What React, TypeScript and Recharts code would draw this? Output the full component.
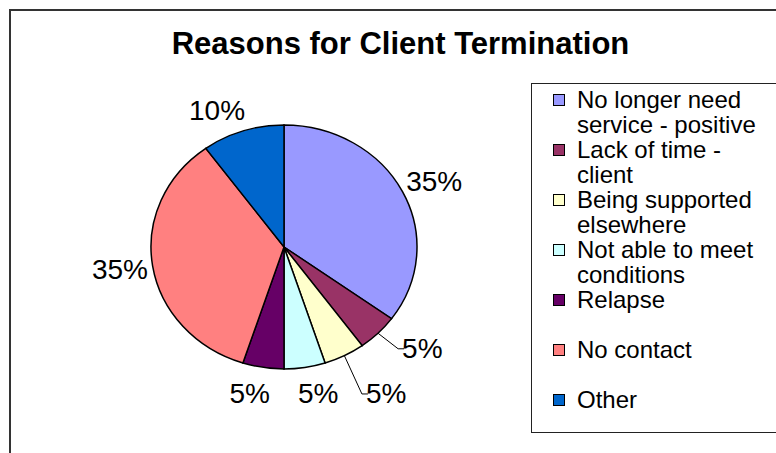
import React from 'react';
import { PieChart, Pie, Cell, Legend } from 'recharts';

const categories = [
  'No longer need service - positive',
  'Lack of time - client',
  'Being supported elsewhere',
  'Not able to meet conditions',
  'Relapse',
  'No contact',
  'Other',
];
const shares = [35, 5, 5, 5, 5, 35, 10];
const colors = ['#9999FF', '#993366', '#FFFFCC', '#CCFFFF', '#660066', '#FF8080', '#0066CC'];
// labels excel pushed aside and tied back with a leader line
const leaderSlices = ['Lack of time - client', 'Being supported elsewhere'];

const data = categories.map((name, i) => ({ name, value: shares[i] }));

const FONT = '"Liberation Sans", Arial, sans-serif';
const CX = 284;
const CY = 247;
const R = 133;
const SQUASH = 0.917; // excel drew the pie slightly flattened

const renderLabel = (props: any) => {
  const { cx, cy, midAngle, outerRadius, percent, name } = props;
  const rad = Math.PI / 180;
  const dx = Math.cos(-midAngle * rad);
  const dy = Math.sin(-midAngle * rad);
  const gap = 10;
  const txt = `${Math.round(percent * 100)}%`;
  const hw = txt.length * 7.6;
  const hh = 12;
  let x = cx + (outerRadius + gap) * dx + hw * Math.sign(dx) * Math.min(1, Math.abs(dx) * 5);
  let y = cy + (outerRadius * SQUASH + gap) * dy + hh * dy;
  if (dy > 0.85) y = cy + outerRadius * SQUASH + gap + hh + 3;
  let line = null;
  if (leaderSlices.includes(name)) {
    x += 22;
    const sx = cx + outerRadius * dx;
    const sy = cy + outerRadius * SQUASH * dy;
    const left = x - hw;
    line = (
      <polyline
        points={`${sx},${sy} ${left - 9},${y} ${left - 3},${y}`}
        fill="none"
        stroke="#000"
        strokeWidth={1}
      />
    );
  }
  return (
    <g>
      {line}
      <text x={x} y={y} textAnchor="middle" dominantBaseline="central" fontSize={28} fontFamily={FONT} fill="#000">
        {txt}
      </text>
    </g>
  );
};

const renderLegend = () => (
  <div style={{ paddingTop: 3 }}>
    {categories.map((name, i) => (
      <div key={'leg' + i} style={{ height: 50, display: 'flex', alignItems: 'flex-start' }}>
        <div
          style={{
            width: 10,
            height: 10,
            background: colors[i],
            border: '1px solid #000',
            marginTop: 7,
            marginLeft: 21,
            marginRight: 12,
            flexShrink: 0,
          }}
        />
        <div style={{ width: 192, fontSize: 24, lineHeight: '25px', fontFamily: FONT, color: '#000' }}>{name}</div>
      </div>
    ))}
  </div>
);

export default function App() {
  return (
    <div style={{ position: 'absolute', left: 0, top: 0, width: 776, height: 453, overflow: 'hidden', background: '#fff' }}>
      <style>{`.recharts-pie-sector { transform: scale(1, ${SQUASH}); transform-origin: ${CX}px ${CY}px; }`}</style>
      <div
        style={{
          position: 'absolute',
          left: 9,
          top: 9,
          width: 800,
          height: 500,
          borderLeft: '2px solid #333',
          borderTop: '2px solid #333',
        }}
      />
      <div
        style={{
          position: 'absolute',
          left: 0,
          top: 26,
          width: 801,
          textAlign: 'center',
          fontFamily: FONT,
          fontWeight: 'bold',
          fontSize: 31,
          color: '#000',
        }}
      >
        Reasons for Client Termination
      </div>
      <PieChart width={776} height={453} margin={{ top: 0, right: 0, bottom: 0, left: 0 }} style={{ position: 'absolute', left: 0, top: 0 }}>
        <Pie
          data={data}
          dataKey="value"
          nameKey="name"
          cx={CX}
          cy={CY}
          outerRadius={R}
          startAngle={90}
          endAngle={-270}
          stroke="#000"
          strokeWidth={1.5}
          label={renderLabel}
          labelLine={false}
          isAnimationActive={false}
        >
          {data.map((d, i) => (
            <Cell key={'cell' + i} fill={colors[i]} />
          ))}
        </Pie>
        <Legend
          content={renderLegend}
          layout="vertical"
          verticalAlign="top"
          align="right"
          wrapperStyle={{
            left: 531,
            top: 83,
            width: 260,
            height: 350,
            border: '1.5px solid #222',
            boxSizing: 'border-box',
            background: '#fff',
          }}
        />
      </PieChart>
    </div>
  );
}
